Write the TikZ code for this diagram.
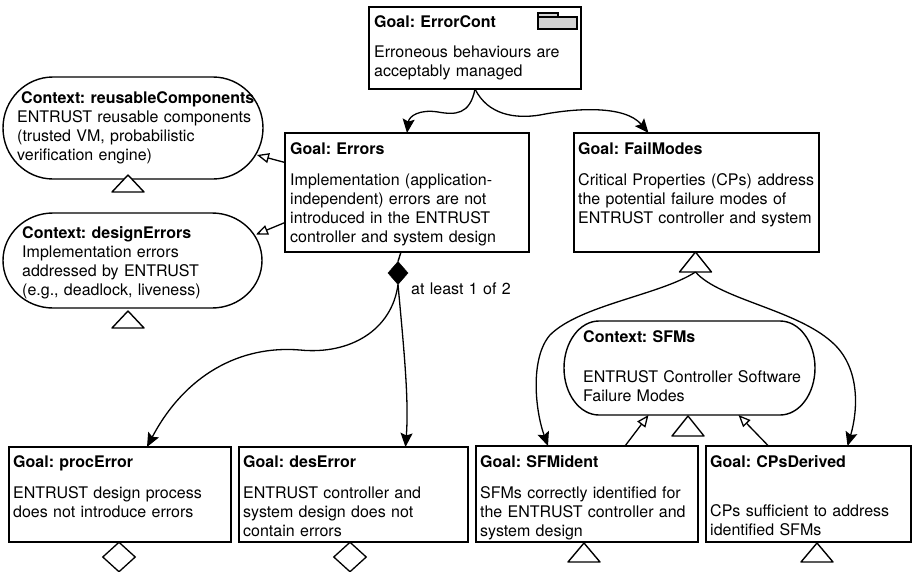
\documentclass[tikz,border=0pt]{standalone}
\usepackage{fontspec}
\setmainfont{TeX Gyre Heros}
\frenchspacing
\usetikzlibrary{arrows.meta,calc,shapes.geometric}

\definecolor{foldergray}{HTML}{D3D3D3}

\tikzset{
  frame/.style={line width=1.4pt, line join=round},
  goalbox/.style={draw, line width=1.4pt, rectangle, anchor=north west, inner sep=0pt, outer sep=0pt},
  ctxregion/.style={rectangle, anchor=north west, inner sep=0pt, outer sep=0pt},
  ttl/.style={anchor=base west, inner sep=0pt, text width=300pt, align=left,
    font=\bfseries\fontsize{16}{19}\selectfont},
  txt/.style={anchor=base west, inner sep=0pt, text width=300pt, align=left,
    font=\fontsize{16}{19}\selectfont},
  support/.style={line width=1.3pt, -{Stealth[length=14pt, width=12pt, inset=2.5pt]}},
  incontext/.style={line width=1.3pt, -{Triangle[open, length=12pt, width=10pt]}},
  undev/.style={diamond, draw, line width=1.3pt, fill=white, inner sep=0pt,
    minimum width=33pt, minimum height=30pt},
}

% rectangular goal element: name, left, top, right, bottom
\newcommand\goalnode[5]{%
  \node[goalbox, minimum width={(#4-#2)*1pt}, minimum height={(#5-#3)*1pt}] (#1) at (#2,#3) {};}
% context element area: name, left, top, right, bottom
\newcommand\ctxnode[5]{%
  \node[ctxregion, minimum width={(#4-#2)*1pt}, minimum height={(#5-#3)*1pt}] (#1) at (#2,#3) {};}
% outline of a context element with elliptical ends: node, x radius, y radius
\newcommand\ctxoutline[3]{%
  \draw[frame] ($(#1.north west)+(#2,0)$) -- ($(#1.north east)+(-#2,0)$)
    .. controls ($(#1.north east)+(-0.448*#2,0)$) and ($(#1.east)+(0,-0.552*#3)$) .. (#1.east)
    .. controls ($(#1.east)+(0,0.552*#3)$) and ($(#1.south east)+(-0.448*#2,0)$) .. ($(#1.south east)+(-#2,0)$)
    -- ($(#1.south west)+(#2,0)$)
    .. controls ($(#1.south west)+(0.448*#2,0)$) and ($(#1.west)+(0,0.552*#3)$) .. (#1.west)
    .. controls ($(#1.west)+(0,-0.552*#3)$) and ($(#1.north west)+(0.448*#2,0)$) .. cycle;}
% small open triangle hanging below an element: apex x, apex y, height
\newcommand\opentri[3]{%
  \draw[frame, fill=white] (#1,#2) -- ++(16,#3) -- ++(-32,0) -- cycle;}

\begin{document}
\begin{tikzpicture}[x=1pt, y=-1pt]
\useasboundingbox (0,0) rectangle (916,571);
\fill[white] (0,0) rectangle (916,571);

% ---------- goals ----------
\goalnode{errorcont}{369}{7}{581}{89}
\goalnode{errors}{285}{133}{529}{252}
\goalnode{failmodes}{574}{133}{819}{252}
\goalnode{procerror}{9}{447}{231}{542}
\goalnode{deserror}{239}{447}{468}{542}
\goalnode{sfmident}{476}{446}{698}{542}
\goalnode{cpsderived}{706}{446}{911}{542}

% module folder icon
\draw[line width=1.1pt, fill=foldergray] (538,13) rectangle (558,17);
\draw[line width=1.1pt, fill=foldergray] (538,17) rectangle (577,29);

% ---------- contexts ----------
\ctxnode{rc}{3}{77}{263}{179}
\ctxoutline{rc}{50}{51}
\ctxnode{de}{3}{213}{262}{308}
\ctxoutline{de}{50}{47.5}
\ctxnode{sfms}{564}{321}{815}{415}
\ctxoutline{sfms}{35}{47}

% ---------- texts ----------
\node[ttl] (t-errorcont) at (374,27) {Goal: ErrorCont};
\node[txt] (b-errorcont) at (374,57) {Erroneous behaviours are\\acceptably managed};

\node[ttl] (t-errors) at (290,154) {Goal: Errors};
\node[txt] (b-errors) at (290,185) {Implementation (application-\\independent) errors are not\\introduced in the ENTRUST\\controller and system design};

\node[ttl] (t-failmodes) at (578,154) {Goal: FailModes};
\node[txt] (b-failmodes) at (578,185) {Critical Properties (CPs) address\\the potential failure modes of\\ENTRUST controller and system};

\node[ttl] (t-rc) at (21,103) {Context: reusableComponents};
\node[txt] (b-rc) at (17,122) {ENTRUST reusable components\\(trusted VM, probabilistic\\verification engine)};

\node[ttl] (t-de) at (22,238) {Context: designErrors};
\node[txt] (b-de) at (22,257) {Implementation errors\\addressed by ENTRUST\\(e.g., deadlock, liveness)};

\node[ttl] (t-procerror) at (13,467) {Goal: procError};
\node[txt] (b-procerror) at (13,498) {ENTRUST design process\\does not introduce errors};

\node[ttl] (t-deserror) at (243,467) {Goal: desError};
\node[txt] (b-deserror) at (243,498) {ENTRUST controller and\\system design does not\\contain errors};

\node[ttl] (t-sfms) at (583,342) {Context: SFMs};
\node[txt] (b-sfms) at (583,382) {ENTRUST Controller Software\\Failure Modes};

\node[ttl] (t-sfmident) at (480,467) {Goal: SFMident};
\node[txt] (b-sfmident) at (480,498) {SFMs correctly identified for\\the ENTRUST controller and\\system design};

\node[ttl] (t-cpsderived) at (710,467) {Goal: CPsDerived};
\node[txt] (b-cpsderived) at (710,516) {CPs sufficient to address\\identified SFMs};

% ---------- decorations below elements ----------
\opentri{128}{175}{17}
\opentri{128}{311}{17}
\opentri{688}{416}{20}
\opentri{584}{543}{19}
\opentri{817}{543}{19}
\draw[frame, fill=white] ($(failmodes.south)+(-1,0)$) -- ++(16,20) -- ++(-32,0) -- cycle;
\coordinate (fmtri) at ($(failmodes.south)+(-1,20)$);

\node[undev] (procundev) at (119,557) {};
\node[undev] (desundev) at (350,557) {};

% ---------- choice node ----------
\node[diamond, draw, fill=black, inner sep=0pt, outer sep=0pt,
      minimum width=20pt, minimum height=23pt] (xor) at (398,273) {};
\draw[frame] ($(errors.south)+(-6,0)$) -- (xor.north);
\node[txt] (atleast) at (411,294) {at least 1 of 2};

% ---------- supported-by connectors ----------
\draw[support] (errorcont.south) .. controls (470,115) and (455,115) .. (438,112)
  .. controls (420,109) and (409,116) .. (errors.north);
\draw[support] (errorcont.south) .. controls (488,115) and (515,119) .. (540,115)
  .. controls (575,108) and (625,105) .. ($(failmodes.north)+(-48,0)$);

\draw[support] (xor.south) .. controls (392,330) and (350,355) .. (300,350)
  .. controls (240,345) and (185,375) .. ($(procerror.north)+(27,0)$);
\draw[support] (xor.south) .. controls (404,350) and (409,400) .. ($(deserror.north)+(52,0)$);

\draw[support] (fmtri) .. controls (660,295) and (580,305) .. (550,335)
  .. controls (530,358) and (535,410) .. ($(sfmident.north)+(-39,0)$);
\draw[support] (fmtri) .. controls (720,300) and (800,310) .. (835,345)
  .. controls (860,370) and (858,410) .. ($(cpsderived.north)+(39,0)$);

% ---------- in-context-of connectors ----------
\coordinate (rc-in) at ($(rc.east)+(-6,27)$);
\coordinate (de-in) at ($(de.east)+(-6,-26)$);
\draw[incontext] ($(errors.west)+(0,-30)$) -- (rc-in);
\draw[incontext] ($(errors.west)+(0,30)$) -- (de-in);
\draw[incontext] ($(sfmident.north)+(38,0)$) -- ($(sfms.south)+(-41,0)$);
\draw[incontext] ($(cpsderived.north)+(-40,0)$) -- ($(sfms.south)+(49,0)$);
\end{tikzpicture}
\end{document}
